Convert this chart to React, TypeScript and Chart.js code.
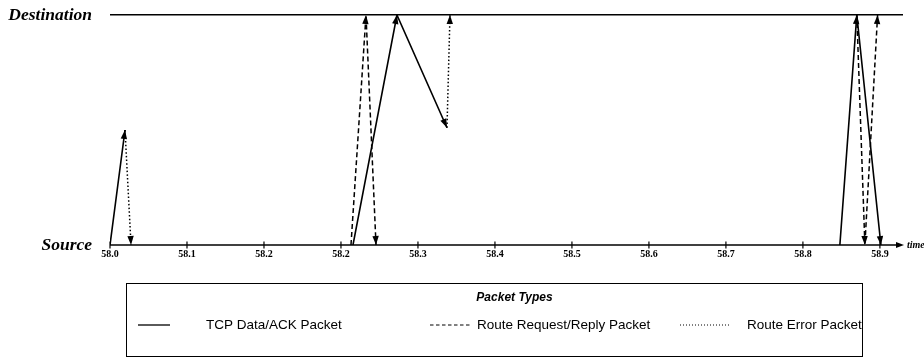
import React, { useEffect, useRef } from 'react';
import { Chart, registerables } from 'chart.js';

Chart.register(...registerables);

type Pt = [number, number];

// ---- data ----
const X_TICK_LABELS = ['58.0', '58.1', '58.2', '58.2', '58.3', '58.4', '58.5', '58.6', '58.7', '58.8', '58.9'];
const X_MIN = 58.0;
const X_MAX = 59.03;
const X_STEP = 0.1;
const Y_LABELS = ['Source', 'Destination'];
const X_AXIS_TITLE = 'time';
const LEGEND_TITLE = 'Packet Types';
const SERIES_NAMES = ['TCP Data/ACK Packet', 'Route Request/Reply Packet', 'Route Error Packet'];

// each path is a chain of arrows (arrowhead at every vertex after the first)
const TCP_PATHS: Pt[][] = [
  [[58.0, 0], [58.0195, 0.5]],
  [[58.3156, 0], [58.3727, 1], [58.4377, 0.51]],
  [[58.948, 0], [58.97, 1], [59.0013, 0]],
];
const ROUTE_REQ_PATHS: Pt[][] = [
  [[58.313, 0], [58.3325, 1], [58.3455, 0]],
  [[58.97, 1], [58.9805, 0], [58.997, 1]],
];
const ROUTE_ERR_PATHS: Pt[][] = [
  [[58.0195, 0.5], [58.0273, 0]],
  [[58.4377, 0.51], [58.4416, 1]],
];

const SERIES_PATHS = [TCP_PATHS, ROUTE_REQ_PATHS, ROUTE_ERR_PATHS];
const SERIES_DASH: number[][] = [[], [5, 3], [1.5, 2.2]];

function flatten(paths: Pt[][]) {
  const out: { x: number; y: number | null }[] = [];
  paths.forEach((p, i) => {
    if (i > 0) out.push({ x: p[0][0], y: null });
    p.forEach(([x, y]) => out.push({ x, y }));
  });
  return out;
}

function arrowHead(ctx: CanvasRenderingContext2D, x0: number, y0: number, x1: number, y1: number, len = 9, half = 3.2) {
  const a = Math.atan2(y1 - y0, x1 - x0);
  const c = Math.cos(a), s = Math.sin(a);
  ctx.beginPath();
  ctx.moveTo(x1, y1);
  ctx.lineTo(x1 - len * c + half * s, y1 - len * s - half * c);
  ctx.lineTo(x1 - len * c - half * s, y1 - len * s + half * c);
  ctx.closePath();
  ctx.fill();
}

const decorPlugin = {
  id: 'decor',
  afterDatasetsDraw(chart: any) {
    const ctx: CanvasRenderingContext2D = chart.ctx;
    ctx.save();
    ctx.fillStyle = '#000';
    chart.data.datasets.forEach((_ds: any, di: number) => {
      const meta = chart.getDatasetMeta(di);
      const pts = meta.data;
      for (let i = 1; i < pts.length; i++) {
        const a = pts[i - 1], b = pts[i];
        if (a.skip || b.skip) continue;
        arrowHead(ctx, a.x, a.y, b.x, b.y);
      }
    });
    ctx.restore();
  },
  afterDraw(chart: any) {
    const ctx: CanvasRenderingContext2D = chart.ctx;
    const { left, right, bottom } = chart.chartArea;
    const xs = chart.scales.x;
    ctx.save();
    ctx.strokeStyle = '#000';
    ctx.fillStyle = '#000';
    ctx.lineWidth = 1.5;
    // x axis with arrow
    const tip = right + 1;
    ctx.beginPath();
    ctx.moveTo(left, bottom);
    ctx.lineTo(tip - 4, bottom);
    ctx.stroke();
    arrowHead(ctx, left, bottom, tip, bottom, 8, 3);
    // crossing tick marks
    ctx.lineWidth = 1.2;
    xs.ticks.forEach((t: any) => {
      const px = xs.getPixelForValue(t.value);
      ctx.beginPath();
      ctx.moveTo(px, bottom - 3.5);
      ctx.lineTo(px, bottom + 3.5);
      ctx.stroke();
    });
    // axis title
    ctx.font = 'italic bold 10px "Liberation Serif"';
    ctx.textAlign = 'left';
    ctx.textBaseline = 'middle';
    ctx.fillText(X_AXIS_TITLE, tip + 3, bottom);

    // legend box
    ctx.lineWidth = 1;
    ctx.strokeRect(126.5, 283.5, 736, 73);
    ctx.font = 'italic bold 12px "Liberation Sans"';
    ctx.textAlign = 'center';
    ctx.fillText(LEGEND_TITLE, 514.5, 298);
    const items = [
      { x0: 138, x1: 170, tx: 206 },
      { x0: 430, x1: 472, tx: 477 },
      { x0: 680, x1: 730, tx: 747 },
    ];
    ctx.font = '13.5px "Liberation Sans"';
    ctx.textAlign = 'left';
    items.forEach((it, i) => {
      ctx.lineWidth = i === 0 ? 1.3 : 1;
      ctx.setLineDash(SERIES_DASH[i].length ? (i === 1 ? [3.5, 2.5] : [1, 2]) : []);
      ctx.beginPath();
      ctx.moveTo(it.x0, 325);
      ctx.lineTo(it.x1, 325);
      ctx.stroke();
      ctx.setLineDash([]);
      ctx.fillText(SERIES_NAMES[i], it.tx, 325);
    });
    ctx.restore();
  },
};

export default function App() {
  const ref = useRef<HTMLCanvasElement | null>(null);
  useEffect(() => {
    if (!ref.current) return;
    const chart = new Chart(ref.current, {
      type: 'line',
      data: {
        datasets: SERIES_PATHS.map((paths, i) => ({
          label: SERIES_NAMES[i],
          data: flatten(paths) as any,
          borderColor: '#000',
          backgroundColor: '#000',
          borderWidth: i === 0 ? 1.6 : 1.5,
          borderDash: SERIES_DASH[i],
          pointRadius: 0,
          tension: 0,
          spanGaps: false,
          fill: false,
        })),
      },
      options: {
        animation: false,
        responsive: true,
        maintainAspectRatio: false,
        devicePixelRatio: 1,
        layout: { padding: { top: 15, right: 21, left: 0, bottom: 0 } },
        plugins: { legend: { display: false }, tooltip: { enabled: false } },
        scales: {
          x: {
            type: 'linear',
            min: X_MIN,
            max: X_MAX,
            grid: { display: false, drawTicks: false },
            border: { display: false },
            afterFit: (s: any) => { s.height = 113; s.paddingLeft = 0; s.paddingRight = 0; },
            ticks: {
              stepSize: X_STEP,
              includeBounds: false,
              autoSkip: false,
              maxRotation: 0,
              padding: 3,
              color: '#000',
              font: { family: 'Liberation Serif', size: 10, weight: 'bold' },
              callback: (_v: any, idx: number) => X_TICK_LABELS[idx] ?? '',
            },
          },
          y: {
            type: 'linear',
            min: 0,
            max: 1,
            afterFit: (s: any) => { s.width = 110; s.paddingTop = 0; s.paddingBottom = 0; },
            border: { display: false },
            grid: {
              drawTicks: false,
              lineWidth: 1.5,
              color: (c: any) => (c.tick && c.tick.value === 1 ? '#000' : 'rgba(0,0,0,0)'),
            },
            ticks: {
              stepSize: 1,
              padding: 18,
              color: '#000',
              font: { family: 'Liberation Serif', size: 17.5, weight: 'bold', style: 'italic' },
              callback: (v: any) => (v === 1 ? Y_LABELS[1] : v === 0 ? Y_LABELS[0] : ''),
            },
          },
        },
      },
      plugins: [decorPlugin],
    } as any);
    return () => chart.destroy();
  }, []);
  return (
    <div style={{ position: 'fixed', left: 0, top: 0, width: 924, height: 358, background: '#fff' }}>
      <canvas ref={ref} />
    </div>
  );
}
